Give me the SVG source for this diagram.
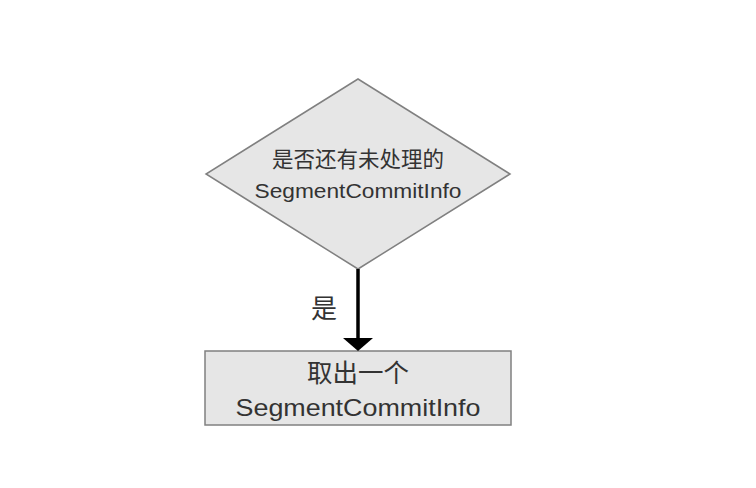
<svg xmlns="http://www.w3.org/2000/svg" width="756" height="488" viewBox="0 0 756 488">
<defs>
<style>
.shape{fill:#e6e6e6;stroke:#808080;stroke-width:1.5}
.t{font-family:"Liberation Sans","Noto Sans CJK SC",sans-serif;fill:#333333;text-anchor:middle}
.edge{stroke:#000000;stroke-width:3.5;fill:none}
</style>
</defs>
<rect width="756" height="488" fill="#ffffff"/>
<g id="decision">
<polygon class="shape" points="358,79 510,174 358,269 206,174"/>
<text class="t" x="358" y="167" font-size="21.5">是否还有未处理的</text>
<text class="t" x="358" y="198" font-size="20" textLength="207" lengthAdjust="spacingAndGlyphs">SegmentCommitInfo</text>
</g>
<g id="process">
<rect class="shape" x="205" y="351" width="306" height="74"/>
<text class="t" x="358" y="382" font-size="25.5">取出一个</text>
<text class="t" x="358" y="416" font-size="24" textLength="245" lengthAdjust="spacingAndGlyphs">SegmentCommitInfo</text>
</g>
<g id="connectors">
<line class="edge" x1="358" y1="269" x2="358" y2="339"/>
<polygon points="343,338 373,338 358,351" fill="#000000"/>
<text class="t" x="324" y="318" font-size="26">是</text>
</g>
</svg>
